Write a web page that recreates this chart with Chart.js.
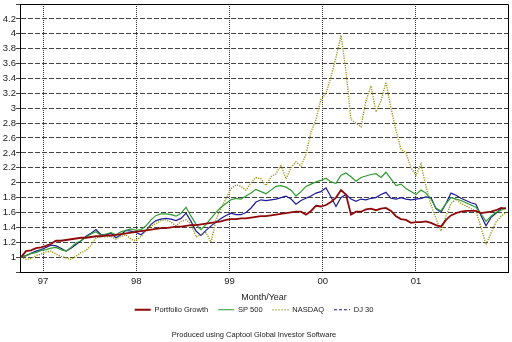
<!DOCTYPE html>
<html>
<head>
<meta charset="utf-8">
<script src="https://cdn.jsdelivr.net/npm/chart.js@4.4.1/dist/chart.umd.min.js"></script>
<style>
  html, body { margin: 0; padding: 0; background: #fff; }
  #wrap { width: 512px; height: 342px; }
</style>
</head>
<body>
<div id="wrap"><canvas id="c" width="512" height="342"></canvas></div>
<script>
// Sample dates as decimal years (roughly every 20 days)
const dates = [
  1996.764, 1996.818, 1996.871, 1996.925, 1996.979, 1997.032, 1997.086, 1997.139, 1997.193, 1997.247,
  1997.300, 1997.354, 1997.408, 1997.461, 1997.515, 1997.568, 1997.622, 1997.676, 1997.729, 1997.783,
  1997.836, 1997.890, 1997.944, 1997.997, 1998.051, 1998.105, 1998.158, 1998.212, 1998.265, 1998.319,
  1998.373, 1998.426, 1998.480, 1998.534, 1998.587, 1998.641, 1998.694, 1998.748, 1998.802, 1998.855,
  1998.909, 1998.962, 1999.016, 1999.070, 1999.123, 1999.177, 1999.231, 1999.284, 1999.338, 1999.391,
  1999.445, 1999.499, 1999.552, 1999.606, 1999.660, 1999.713, 1999.767, 1999.820, 1999.874, 1999.928,
  1999.981, 2000.035, 2000.088, 2000.142, 2000.196, 2000.249, 2000.303, 2000.357, 2000.410, 2000.464,
  2000.517, 2000.571, 2000.625, 2000.678, 2000.732, 2000.786, 2000.839, 2000.893, 2000.946, 2001.000,
  2001.054, 2001.107, 2001.161, 2001.214, 2001.268, 2001.322, 2001.375, 2001.429, 2001.483, 2001.536,
  2001.590, 2001.643, 2001.697, 2001.751, 2001.804, 2001.858, 2001.912, 2001.965
];

// Growth of 1 unit invested
const portfolioGrowth = [
  1.00, 1.08, 1.09, 1.12, 1.13, 1.15, 1.18, 1.22, 1.22, 1.23,
  1.24, 1.25, 1.26, 1.26, 1.27, 1.28, 1.28, 1.29, 1.29, 1.30,
  1.31, 1.32, 1.33, 1.34, 1.35, 1.36, 1.37, 1.38, 1.39, 1.39,
  1.40, 1.41, 1.41, 1.42, 1.43, 1.43, 1.44, 1.45, 1.46, 1.47,
  1.48, 1.50, 1.51, 1.51, 1.52, 1.52, 1.53, 1.54, 1.55, 1.55,
  1.56, 1.57, 1.58, 1.59, 1.60, 1.61, 1.61, 1.57, 1.62, 1.69,
  1.68, 1.70, 1.74, 1.80, 1.90, 1.84, 1.57, 1.61, 1.61, 1.64,
  1.65, 1.63, 1.65, 1.66, 1.62, 1.55, 1.51, 1.50, 1.46, 1.47,
  1.47, 1.48, 1.46, 1.43, 1.41, 1.50, 1.56, 1.59, 1.61, 1.62,
  1.62, 1.62, 1.59, 1.60, 1.61, 1.63, 1.66, 1.65
];

const sp500 = [
  1.00, 1.02, 1.05, 1.06, 1.09, 1.10, 1.12, 1.13, 1.10, 1.08,
  1.13, 1.19, 1.22, 1.27, 1.31, 1.34, 1.29, 1.31, 1.33, 1.30,
  1.34, 1.36, 1.38, 1.36, 1.37, 1.42, 1.50, 1.56, 1.58, 1.58,
  1.57, 1.55, 1.59, 1.67, 1.55, 1.44, 1.37, 1.44, 1.52, 1.60,
  1.67, 1.72, 1.77, 1.79, 1.78, 1.82, 1.86, 1.91, 1.88, 1.85,
  1.90, 1.95, 1.96, 1.94, 1.90, 1.82, 1.88, 1.95, 1.98, 2.01,
  2.03, 2.06, 2.01, 1.99, 2.10, 2.13, 2.08, 2.02, 2.07, 2.09,
  2.11, 2.12, 2.07, 2.14, 2.05, 1.96, 1.98, 1.92, 1.88, 1.84,
  1.90, 1.86, 1.78, 1.66, 1.62, 1.72, 1.80, 1.78, 1.76, 1.73,
  1.70, 1.67, 1.58, 1.48, 1.55, 1.60, 1.63, 1.66
];

const nasdaq = [
  1.00, 0.97, 0.98, 1.02, 1.04, 1.07, 1.08, 1.04, 1.01, 0.99,
  0.97, 1.01, 1.06, 1.09, 1.16, 1.26, 1.28, 1.27, 1.28, 1.24,
  1.28, 1.30, 1.24, 1.22, 1.28, 1.36, 1.42, 1.45, 1.49, 1.50,
  1.47, 1.42, 1.48, 1.50, 1.45, 1.27, 1.30, 1.33, 1.20, 1.50,
  1.66, 1.78, 1.92, 1.97, 1.95, 1.90, 2.00, 2.07, 2.05, 1.96,
  2.08, 2.12, 2.24, 2.05, 2.20, 2.28, 2.22, 2.38, 2.68, 2.85,
  3.12, 3.20, 3.42, 3.68, 3.98, 3.50, 2.85, 2.80, 2.75, 3.10,
  3.30, 2.95, 3.10, 3.35, 3.00, 2.70, 2.45, 2.40, 2.20, 2.10,
  2.25, 1.95, 1.70, 1.52, 1.35, 1.55, 1.72, 1.78, 1.72, 1.69,
  1.65, 1.62, 1.40, 1.17, 1.32, 1.47, 1.55, 1.60
];

const dj30 = [
  1.00, 1.02, 1.05, 1.08, 1.10, 1.13, 1.16, 1.15, 1.12, 1.08,
  1.12, 1.17, 1.22, 1.28, 1.32, 1.37, 1.30, 1.30, 1.32, 1.26,
  1.30, 1.36, 1.35, 1.33, 1.30, 1.36, 1.44, 1.49, 1.51, 1.52,
  1.51, 1.49, 1.52, 1.59, 1.48, 1.35, 1.29, 1.36, 1.42, 1.47,
  1.52, 1.56, 1.59, 1.57, 1.57, 1.60, 1.66, 1.74, 1.77, 1.76,
  1.77, 1.78, 1.80, 1.82, 1.78, 1.71, 1.76, 1.79, 1.82, 1.86,
  1.88, 1.93, 1.81, 1.68, 1.80, 1.84, 1.78, 1.75, 1.78, 1.77,
  1.79, 1.80, 1.84, 1.87, 1.79, 1.78, 1.80, 1.78, 1.77, 1.78,
  1.79, 1.81, 1.80, 1.65, 1.60, 1.72, 1.86, 1.83, 1.79, 1.76,
  1.73, 1.71, 1.56, 1.42, 1.53, 1.59, 1.65, 1.66
];

const seriesNames = ['Portfolio Growth', 'SP 500', 'NASDAQ', 'DJ 30'];
const yearTicks = [1997, 1998, 1999, 2000, 2001];
const yearLabels = ['97', '98', '99', '00', '01'];

const toPoints = arr => dates.map((d, i) => ({ x: d, y: arr[i] }));

Chart.defaults.font.family = "'Liberation Sans', Arial, Helvetica, sans-serif";
Chart.defaults.color = '#222';

// Line samples in the legend: solid, solid, dotted, dashed
const legendDash = [[], [], [1, 2], [3, 2]];

// Closes the plot frame on the top and right sides
const framePlugin = {
  id: 'frame',
  beforeDatasetsDraw(chart) {
    const { ctx, chartArea: a } = chart;
    ctx.save();
    ctx.strokeStyle = '#000';
    ctx.lineWidth = 1;
    ctx.beginPath();
    ctx.moveTo(a.left, Math.round(a.top) + 0.5);
    ctx.lineTo(Math.round(a.right) + 0.5, Math.round(a.top) + 0.5);
    ctx.lineTo(Math.round(a.right) + 0.5, a.bottom);
    ctx.stroke();
    ctx.restore();
  }
};

new Chart(document.getElementById('c'), {
  type: 'line',
  data: {
    datasets: [
      { label: seriesNames[0], data: toPoints(portfolioGrowth), borderColor: '#8e0a0a', borderWidth: 1.8 },
      { label: seriesNames[1], data: toPoints(sp500), borderColor: '#2f9a2f', borderWidth: 1.2 },
      { label: seriesNames[2], data: toPoints(nasdaq), borderColor: '#999617', borderWidth: 1.4, borderDash: [1.2, 1.2] },
      { label: seriesNames[3], data: toPoints(dj30), borderColor: '#1c1c96', borderWidth: 1.2 }
    ]
  },
  options: {
    responsive: false,
    animation: false,
    devicePixelRatio: 1,
    elements: { point: { radius: 0 }, line: { tension: 0 } },
    layout: { padding: { left: 0, right: 4, top: 4, bottom: 0 } },
    scales: {
      x: {
        type: 'linear',
        min: 1996.753,
        max: 2001.987,
        afterBuildTicks: s => { s.ticks = yearTicks.map(v => ({ value: v })); },
        afterFit: s => { s.height = 24; s.paddingLeft = 0; s.paddingRight = 0; },
        ticks: {
          autoSkip: false,
          maxRotation: 0,
          padding: 4,
          font: { size: 9.5 },
          callback: v => { const i = yearTicks.indexOf(v); return i >= 0 ? yearLabels[i] : ''; }
        },
        grid: { color: '#333', lineWidth: 1, drawTicks: false },
        border: { display: true, color: '#000', width: 1, dash: [1, 1] },
        title: { display: true, text: 'Month/Year', font: { size: 9 }, padding: { top: 0, bottom: -7.4 } }
      },
      y: {
        min: 0.8,
        max: 4.4,
        afterFit: s => { s.width = 20; s.paddingTop = 0; s.paddingBottom = 0; },
        ticks: {
          stepSize: 0.2,
          padding: 0,
          font: { size: 9.5 },
          callback: v => (v < 0.95 || v > 4.3) ? '' : String(Number(v.toFixed(1)))
        },
        grid: { color: '#444', lineWidth: 1, tickLength: 4, tickColor: '#444', tickBorderDash: [] },
        border: { display: true, color: '#000', width: 1, dash: [5, 2] }
      }
    },
    plugins: {
      legend: {
        position: 'bottom',
        labels: {
          usePointStyle: true,
          pointStyle: 'line',
          pointStyleWidth: 16,
          boxHeight: 7,
          padding: 10,
          font: { size: 7.5 },
          generateLabels: chart => {
            const items = Chart.defaults.plugins.legend.labels.generateLabels(chart);
            items.forEach((it, i) => { it.lineDash = legendDash[i]; it.pointStyle = 'line'; });
            return items;
          }
        }
      },
      title: {
        display: true,
        position: 'bottom',
        text: 'Produced using Captool Global Investor Software',
        font: { size: 7.5, weight: 'normal' },
        color: '#222',
        padding: { top: 7, bottom: 2.5 }
      },
      tooltip: { enabled: false }
    }
  },
  plugins: [framePlugin]
});
</script>
</body>
</html>
